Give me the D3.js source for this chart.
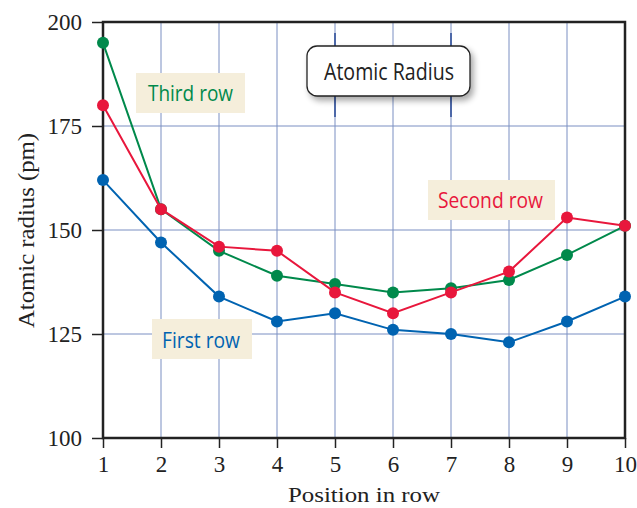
<!DOCTYPE html>
<html><head><meta charset="utf-8">
<script src="https://cdn.jsdelivr.net/npm/d3@7"></script>
<style>body{margin:0;background:#fff}svg{display:block}</style>
</head><body>
<svg id="c" width="637" height="508"></svg>
<script>
const positions = [1,2,3,4,5,6,7,8,9,10];
const firstRow  = [162,147,134,128,130,126,125,123,128,134];
const secondRow = [180,155,146,145,135,130,135,140,153,151];
const thirdRow  = [195,155,145,139,137,135,136,138,144,151];
const yTicks = [100,125,150,175,200];
const seriesNames = ["First row","Second row","Third row"];
const colors = ["#0063b1","#e8173c","#00894b"];

const svg = d3.select("#c");
const L=103, R=625, T=22, B=438;
const x = d3.scaleLinear().domain([1,10]).range([L,R]);
const y = d3.scaleLinear().domain([100,200]).range([B,T]);
const serif = "'Liberation Serif','DejaVu Serif',serif";
const sans = "'Open Sans','Noto Sans',sans-serif";

// gridlines
const grid = svg.append("g").attr("stroke","#7b8fc2").attr("stroke-width",1);
positions.slice(1,-1).forEach(p=>grid.append("line").attr("x1",x(p)).attr("x2",x(p)).attr("y1",T).attr("y2",B));
yTicks.slice(1,-1).forEach(v=>grid.append("line").attr("x1",L).attr("x2",R).attr("y1",y(v)).attr("y2",y(v)));
// darker segments near title
[5,7].forEach(p=>svg.append("line").attr("x1",x(p)).attr("x2",x(p)).attr("y1",33).attr("y2",117).attr("stroke","#4d68a8").attr("stroke-width",2));

// title box
const tb = svg.append("g");
const defs = svg.append("defs");
const f = defs.append("filter").attr("id","sh").attr("x","-20%").attr("y","-30%").attr("width","140%").attr("height","170%");
f.append("feGaussianBlur").attr("in","SourceAlpha").attr("stdDeviation",3);
f.append("feOffset").attr("dx",3).attr("dy",4).attr("result","o");
f.append("feComponentTransfer").append("feFuncA").attr("type","linear").attr("slope",0.35);
const m=f.append("feMerge"); m.append("feMergeNode"); m.append("feMergeNode").attr("in","SourceGraphic");
tb.append("rect").attr("x",307).attr("y",46).attr("width",163).attr("height",50).attr("rx",10)
  .attr("fill","#fff").attr("stroke","#222").attr("stroke-width",1.3).attr("filter","url(#sh)");
tb.append("text").attr("x",324).attr("y",80).attr("font-family",sans)
  .attr("font-size",23).attr("fill","#222").attr("textLength",130).attr("lengthAdjust","spacingAndGlyphs").text("Atomic Radius");

// axes
const xAxis = d3.axisBottom(x).tickValues(positions).tickSize(10).tickPadding(8).tickFormat(d3.format("d"));
const yAxis = d3.axisLeft(y).tickValues(yTicks).tickSize(11).tickPadding(10);
const gx = svg.append("g").attr("transform",`translate(0,${B})`).call(xAxis);
const gy = svg.append("g").attr("transform",`translate(${L},0)`).call(yAxis);
[gx,gy].forEach(g=>{
  g.select(".domain").remove();
  g.selectAll("line").attr("stroke","#222").attr("stroke-width",1.5);
  g.selectAll("text").attr("font-family",serif).attr("font-size",23).attr("fill","#222");
});
svg.append("rect").attr("x",L).attr("y",T).attr("width",R-L).attr("height",B-T)
  .attr("fill","none").attr("stroke","#222").attr("stroke-width",2.5);

// series
const data=[firstRow,secondRow,thirdRow];
const line = d3.line().x((d,i)=>x(positions[i])).y(d=>y(d));
[2,0,1].forEach(k=>{
  const g=svg.append("g");
  g.append("path").datum(data[k]).attr("d",line).attr("fill","none").attr("stroke",colors[k]).attr("stroke-width",2);
  g.selectAll("circle").data(data[k]).join("circle").attr("cx",(d,i)=>x(positions[i])).attr("cy",d=>y(d)).attr("r",6).attr("fill",colors[k]);
});

// labels
const labels=[
  {k:0,x:152,y:319,w:100,h:40,tx:162,ty:348,tl:78},
  {k:1,x:428,y:180,w:127,h:40,tx:438,ty:208,tl:105},
  {k:2,x:136,y:73,w:109,h:40,tx:148,ty:101,tl:85}];
labels.forEach(o=>{
  svg.append("rect").attr("x",o.x).attr("y",o.y).attr("width",o.w).attr("height",o.h).attr("fill","#f5eedb");
  svg.append("text").attr("x",o.tx).attr("y",o.ty).attr("font-family",sans)
    .attr("font-size",22).attr("fill",colors[o.k]).attr("textLength",o.tl).attr("lengthAdjust","spacingAndGlyphs").text(seriesNames[o.k]);
});

// axis titles
svg.append("text").attr("x",288).attr("y",502).attr("font-family",serif)
  .attr("font-size",22).attr("fill","#222").attr("textLength",152).attr("lengthAdjust","spacingAndGlyphs").text("Position in row");
svg.append("text").attr("transform","translate(34,328) rotate(-90)").attr("font-family",serif)
  .attr("font-size",23).attr("fill","#222").attr("textLength",195).attr("lengthAdjust","spacingAndGlyphs").text("Atomic radius (pm)");
</script>
</body></html>
